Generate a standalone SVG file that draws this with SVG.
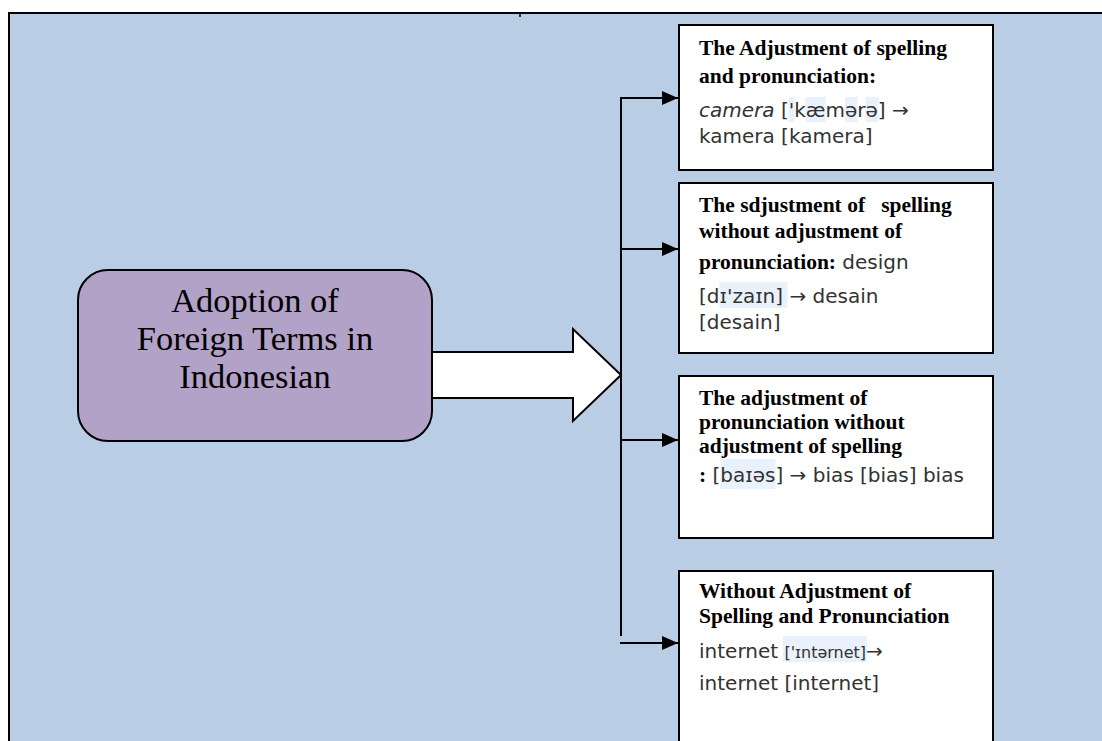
<svg xmlns="http://www.w3.org/2000/svg" width="1102" height="741" viewBox="0 0 1102 741">
<defs>
<style>
.bg{fill:#b9cde4;stroke:#000;stroke-width:2}
.box{fill:#fff;stroke:#000;stroke-width:2}
.hl{fill:#e9f1fc}
.b{font-family:"Liberation Serif","Times New Roman",serif;font-weight:bold;font-size:21.5px;fill:#000}
.s{font-family:"DejaVu Sans","Verdana",sans-serif;font-size:20px;fill:#333}
.main{font-family:"Liberation Serif","Times New Roman",serif;font-size:34.5px;fill:#000;text-anchor:middle}
.ln{stroke:#000;stroke-width:2;fill:none}
</style>
<marker id="ah" viewBox="0 0 16 14" refX="16" refY="7" markerWidth="16" markerHeight="14" markerUnits="userSpaceOnUse" orient="auto">
<path d="M0,0 L16,7 L0,14 Z" fill="#000"/>
</marker>
</defs>
<rect class="bg" x="9" y="13" width="1100" height="740"/>
<line x1="520" y1="13" x2="520" y2="17" stroke="#000" stroke-width="1.5"/>

<g id="main-node">
<rect x="78" y="270" width="354" height="171" rx="30" ry="30" fill="#b3a2c7" stroke="#000" stroke-width="2"/>
<text class="main" x="255" y="312">Adoption of</text>
<text class="main" x="255" y="350">Foreign Terms in</text>
<text class="main" x="255" y="388">Indonesian</text>
</g>

<g id="connectors">
<polygon points="432,352 573,352 573,329 621,375 573,421 573,398 432,398" fill="#fff" stroke="#000" stroke-width="2"/>
<line class="ln" x1="621" y1="97" x2="621" y2="636"/>
<line class="ln" x1="620" y1="98" x2="678" y2="98" marker-end="url(#ah)"/>
<line class="ln" x1="621" y1="249" x2="678" y2="249" marker-end="url(#ah)"/>
<line class="ln" x1="621" y1="440" x2="678" y2="440" marker-end="url(#ah)"/>
<line class="ln" x1="620" y1="643" x2="678" y2="643" marker-end="url(#ah)"/>
</g>

<g id="box1">
<rect class="box" x="679" y="25" width="314" height="145"/>
<rect class="hl" x="788.5" y="97" width="6" height="25"/>
<rect class="hl" x="805.5" y="97" width="20" height="25"/>
<rect class="hl" x="845" y="97" width="12.5" height="25"/>
<rect class="hl" x="865.5" y="97" width="13" height="25"/>
<text class="b" x="699" y="55">The Adjustment of spelling</text>
<text class="b" x="699" y="83">and pronunciation:</text>
<text class="s" x="699" y="117"><tspan font-style="italic">camera</tspan> ['kæmərə] →</text>
<text class="s" x="699" y="143">kamera [kamera]</text>
</g>

<g id="box2">
<rect class="box" x="679" y="183" width="314" height="170"/>
<rect class="hl" x="719.5" y="282" width="68" height="26"/>
<text class="b" x="699" y="212" xml:space="preserve">The sdjustment of   spelling</text>
<text class="b" x="699" y="238">without adjustment of</text>
<text x="699" y="269"><tspan class="b">pronunciation:</tspan><tspan class="s"> design</tspan></text>
<text class="s" x="699" y="303">[dɪ'zaɪn] → desain</text>
<text class="s" x="699" y="329">[desain]</text>
</g>

<g id="box3">
<rect class="box" x="679" y="376" width="314" height="162"/>
<rect class="hl" x="720.5" y="459" width="55" height="30"/>
<text class="b" x="699" y="405">The adjustment of</text>
<text class="b" x="699" y="429">pronunciation without</text>
<text class="b" x="699" y="453">adjustment of spelling</text>
<text x="699" y="482"><tspan class="b">:</tspan><tspan class="s"> [baɪəs] → bias [bias] bias</tspan></text>
</g>

<g id="box4">
<rect class="box" x="679" y="571" width="314" height="190"/>
<rect class="hl" x="783" y="636" width="84" height="26"/>
<text class="b" x="699" y="598">Without Adjustment of</text>
<text class="b" x="699" y="623">Spelling and Pronunciation</text>
<text class="s" x="699" y="658">internet <tspan font-size="16px">['ɪntərnet]</tspan>→</text>
<text class="s" x="699" y="690">internet [internet]</text>
</g>
</svg>
